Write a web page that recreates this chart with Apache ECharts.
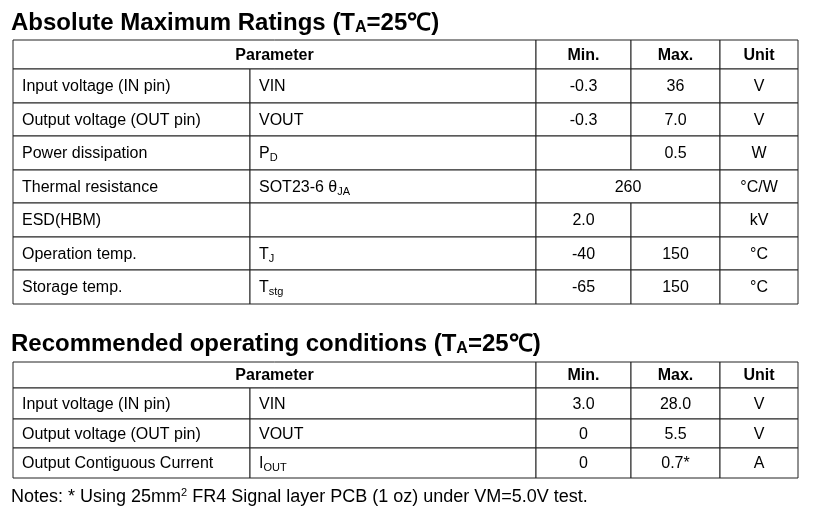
<!DOCTYPE html>
<html><head><meta charset="utf-8">
<script src="https://cdn.jsdelivr.net/npm/echarts@6/dist/echarts.min.js"></script>
<style>html,body{margin:0;padding:0;background:#fff}#c{width:815px;height:511px}</style>
</head><body><div id="c"></div>
<script>
// ---- data ----
const title1 = 'Absolute Maximum Ratings (T{s|A}=25℃)';
const title2 = 'Recommended operating conditions (T{s|A}=25℃)';
const notes = 'Notes: * Using 25mm{p|2} FR4 Signal layer PCB (1 oz) under VM=5.0V test.';
const headerRow = ['Parameter', null, 'Min.', 'Max.', 'Unit'];
const table1Rows = [
  ['Input voltage (IN pin)', 'VIN', '-0.3', '36', 'V'],
  ['Output voltage (OUT pin)', 'VOUT', '-0.3', '7.0', 'V'],
  ['Power dissipation', 'P{s|D}', '', '0.5', 'W'],
  ['Thermal resistance', 'SOT23-6 θ{s|JA}', '260', null, '°C/W'],
  ['ESD(HBM)', '', '2.0', '', 'kV'],
  ['Operation temp.', 'T{s|J}', '-40', '150', '°C'],
  ['Storage temp.', 'T{s|stg}', '-65', '150', '°C']
];
const table2Rows = [
  ['Input voltage (IN pin)', 'VIN', '3.0', '28.0', 'V'],
  ['Output voltage (OUT pin)', 'VOUT', '0', '5.5', 'V'],
  ['Output Contiguous Current', 'I{s|OUT}', '0', '0.7*', 'A']
];
// ---- layout ----
const colEdges = [13, 250, 536, 631, 720, 798];
const rowEdges1 = [40, 69, 103, 136, 170, 203, 237, 270, 304];
const rowEdges2 = [362, 388, 419, 448, 478];

function buildCells(rows, edges) {
  const cells = [];
  const all = [headerRow].concat(rows);
  all.forEach((r, ri) => {
    for (let ci = 0; ci < r.length; ci++) {
      if (r[ci] === null) continue;
      let end = ci + 1;
      while (end < r.length && r[end] === null) end++;
      cells.push([colEdges[ci], colEdges[end], edges[ri], edges[ri + 1], r[ci], ri === 0 ? 1 : 0, (ri > 0 && ci < 2) ? 1 : 0]);
    }
  });
  return cells;
}
const cells = buildCells(table1Rows, rowEdges1).concat(buildCells(table2Rows, rowEdges2));

const rich = {
  s: {fontSize: 11, verticalAlign: 'bottom', lineHeight: 19, fontFamily: 'Liberation Sans'}
};
const titleStyle = {fontSize: 24, fontWeight: 'bold', color: '#000', fontFamily: 'Liberation Sans',
  rich: {s: {fontSize: 16, fontWeight: 'bold', verticalAlign: 'bottom', lineHeight: 26}}};
const chart = echarts.init(document.getElementById('c'));
chart.setOption({
  animation: false,
  title: [
    {text: title1, left: 6, top: 5, textStyle: titleStyle},
    {text: title2, left: 6, top: 326, textStyle: titleStyle},
    {text: notes, left: 6, top: 482, textStyle: {fontSize: 18, fontWeight: 'normal', color: '#000', fontFamily: 'Liberation Sans', rich: {p: {fontSize: 11, verticalAlign: 'top', lineHeight: 20}}}}
  ],
  grid: {left: 0, right: 0, top: 0, bottom: 0},
  xAxis: {type: 'value', min: 0, max: 815, show: false},
  yAxis: {type: 'value', min: 0, max: 511, inverse: true, show: false},
  series: [{
    type: 'custom',
    coordinateSystem: 'cartesian2d',
    data: cells,
    renderItem: function (params, api) {
      const p0 = api.coord([api.value(0), api.value(2)]);
      const p1 = api.coord([api.value(1), api.value(3)]);
      const d = cells[params.dataIndex];
      const bold = d[5] === 1, left = d[6] === 1;
      return {
        type: 'group',
        children: [
          {type: 'rect', shape: {x: p0[0], y: p0[1], width: p1[0] - p0[0], height: p1[1] - p0[1]},
           style: {fill: '#fff', stroke: '#222', lineWidth: 1}},
          {type: 'text', x: left ? p0[0] + 9 : (p0[0] + p1[0]) / 2, y: (p0[1] + p1[1]) / 2 + 1,
           style: {text: d[4], fontSize: 16, fontWeight: bold ? 'bold' : 'normal', fontFamily: 'Liberation Sans',
             fill: '#000', align: left ? 'left' : 'center', verticalAlign: 'middle', lineHeight: 19, rich: rich}}
        ]
      };
    }
  }]
});
</script></body></html>
